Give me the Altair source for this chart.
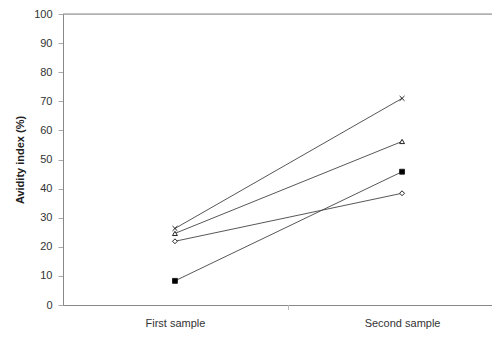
import altair as alt
import pandas as pd

categories = ["First sample", "Second sample"]
series_names = ["A", "B", "C", "D"]
first_values = [26.3, 24.6, 8.3, 21.9]
second_values = [71.0, 56.2, 45.8, 38.4]
shapes = ["M-1,-1L1,1M-1,1L1,-1", "triangle-up", "square", "diamond"]
fills = ["white", "white", "black", "white"]

rows = []
for i, s in enumerate(series_names):
    for j, v in enumerate([first_values[i], second_values[i]]):
        rows.append({"series": s, "xi": j, "value": v})
df = pd.DataFrame(rows)

W, H = 429, 291
font = "Liberation Sans"

x_enc = alt.X("xi:Q", scale=alt.Scale(domain=[-0.493, 1.396], nice=False, zero=False),
              axis=alt.Axis(values=[0, 1], ticks=False, grid=False, title=None,
                            labelExpr=f"datum.value == 0 ? '{categories[0]}' : '{categories[1]}'",
                            labelFont=font, labelFontSize=11, labelColor="#333",
                            labelPadding=12, domainColor="#888"))
y_enc = alt.Y("value:Q", scale=alt.Scale(domain=[0, 100], nice=False),
              axis=alt.Axis(values=list(range(0, 101, 10)), grid=False, labelOverlap=False,
                            tickCount=11,
                            title="Avidity index (%)", titleFont=font, titleFontSize=11,
                            titleFontWeight="bold", titleColor="#222", titlePadding=8,
                            labelFont=font, labelFontSize=11, labelColor="#333",
                            tickColor="#aaa", tickSize=5, domainColor="#888", labelPadding=6))

lines = alt.Chart(df).mark_line(color="#444", strokeWidth=0.9).encode(
    x=x_enc, y=y_enc, detail="series:N")

points = alt.Chart(df).mark_point(size=24, strokeWidth=1, opacity=1, color="#222").encode(
    x=x_enc, y=y_enc,
    shape=alt.Shape("series:N", scale=alt.Scale(domain=series_names, range=shapes), legend=None),
    fill=alt.Fill("series:N", scale=alt.Scale(domain=series_names, range=fills), legend=None))

top = alt.Chart(pd.DataFrame({"value": [100]})).mark_rule(color="#888", strokeWidth=1).encode(
    y=y_enc, x=alt.value(0), x2=alt.value(W))

midtick = alt.Chart(pd.DataFrame({"xi": [0.5]})).mark_rule(color="#bbb", strokeWidth=1).encode(
    x=x_enc, y=alt.value(H), y2=alt.value(H + 5))

chart = alt.layer(lines, points, top, midtick).properties(
    width=W, height=H,
    autosize=alt.AutoSizeParams(type="none"),
    padding={"left": 55, "top": 6, "right": 0, "bottom": 33},
).configure_view(stroke=None).configure(background="white").configure_axisY(labelOverlap=False)

chart.save("out.html", embed_options={"renderer": "svg", "actions": False})
